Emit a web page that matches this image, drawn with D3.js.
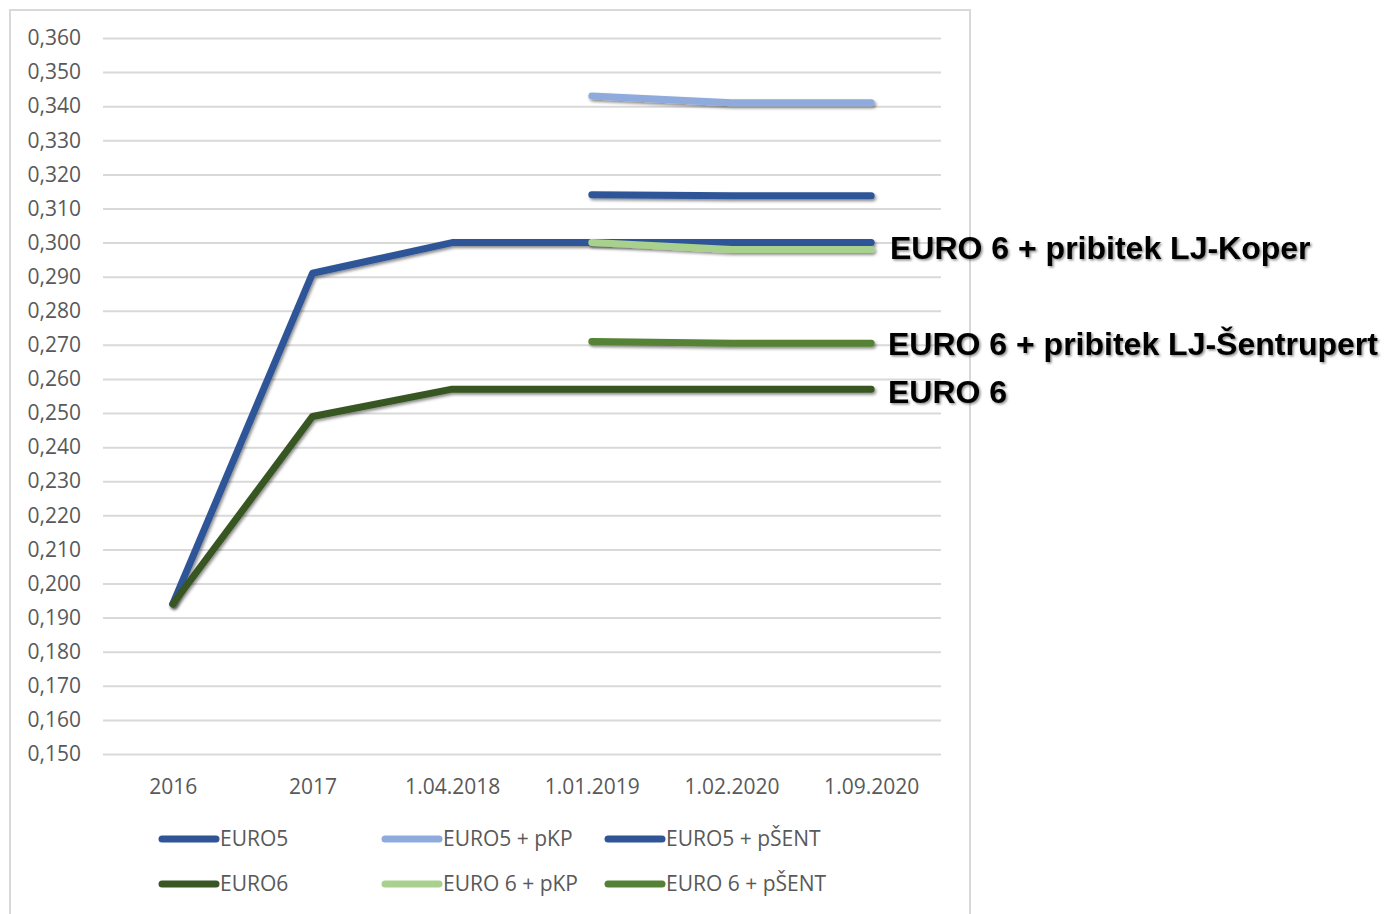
<!DOCTYPE html>
<html>
<head>
<meta charset="utf-8">
<script src="https://cdn.jsdelivr.net/npm/d3@7"></script>
<style>
  body { margin: 0; background: #fff; }
  svg text { font-family: "Open Sans", sans-serif; }
</style>
</head>
<body>
<div id="chart"></div>
<script>
// Categories and y ticks
const categories = ["2016", "2017", "1.04.2018", "1.01.2019", "1.02.2020", "1.09.2020"];
const yTicks = [0.15, 0.16, 0.17, 0.18, 0.19, 0.20, 0.21, 0.22, 0.23, 0.24, 0.25,
                0.26, 0.27, 0.28, 0.29, 0.30, 0.31, 0.32, 0.33, 0.34, 0.35, 0.36];

// Series values (null = no value)
const euro5       = [0.194, 0.291, 0.300, 0.300, 0.300, 0.300];
const euro5pKP    = [null, null, null, 0.343, 0.341, 0.341];
const euro5pSENT  = [null, null, null, 0.314, 0.3137, 0.3137];
const euro6       = [0.194, 0.249, 0.257, 0.257, 0.257, 0.257];
const euro6pKP    = [null, null, null, 0.300, 0.298, 0.298];
const euro6pSENT  = [null, null, null, 0.271, 0.2705, 0.2705];

const seriesNames = ["EURO5", "EURO5 + pKP", "EURO5 + pŠENT", "EURO6", "EURO 6 + pKP", "EURO 6 + pŠENT"];
const seriesValues = [euro5, euro5pKP, euro5pSENT, euro6, euro6pKP, euro6pSENT];
const seriesColors = ["#2f5597", "#8faadc", "#2f5597", "#385723", "#a9d18e", "#548235"];

// Annotation labels on the right
const annotations = [
    {text: "EURO 6 + pribitek LJ-Koper", value: 0.2985},
    {text: "EURO 6 + pribitek LJ-Šentrupert", value: 0.2703},
    {text: "EURO 6", value: 0.2562}
];

const width = 1385, height = 914;
const plot = {left: 103, right: 941, top: 38, bottom: 754};

let svg = d3.select("#chart")
            .append("svg")
            .attr("width", width)
            .attr("height", height);

// drop shadow used by lines and annotation text
let defs = svg.append("defs");
let shadow = defs.append("filter")
                 .attr("id", "shadow")
                 .attr("filterUnits", "userSpaceOnUse")
                 .attr("x", 0).attr("y", 0)
                 .attr("width", width).attr("height", height);
shadow.append("feDropShadow")
      .attr("dx", 1.5).attr("dy", 2)
      .attr("stdDeviation", 1.5)
      .attr("flood-color", "#000")
      .attr("flood-opacity", 0.45);

let textShadow = defs.append("filter")
                     .attr("id", "textShadow")
                     .attr("filterUnits", "userSpaceOnUse")
                     .attr("x", 0).attr("y", 0)
                     .attr("width", width).attr("height", height);
textShadow.append("feDropShadow")
          .attr("dx", 1.5).attr("dy", 1.5)
          .attr("stdDeviation", 1.2)
          .attr("flood-color", "#000")
          .attr("flood-opacity", 0.45);

// chart area border
svg.append("rect")
   .attr("x", 10).attr("y", 10)
   .attr("width", 960).attr("height", 920)
   .attr("fill", "none")
   .attr("stroke", "#d9d9d9")
   .attr("stroke-width", 2);

let xScale = d3.scalePoint()
               .domain(categories)
               .range([plot.left, plot.right])
               .padding(0.5);

let yScale = d3.scaleLinear()
               .domain([0.15, 0.36])
               .range([plot.bottom, plot.top]);

// gridlines + y labels
let yAxis = svg.append("g")
               .attr("transform", `translate(${plot.left},0)`)
               .call(d3.axisLeft(yScale)
                       .tickValues(yTicks)
                       .tickSize(-(plot.right - plot.left))
                       .tickPadding(22)
                       .tickFormat(d => d3.format(".3f")(d).replace(".", ",")));
yAxis.select(".domain").remove();
yAxis.selectAll(".tick line").attr("stroke", "#d9d9d9").attr("stroke-width", 2);
yAxis.selectAll(".tick text")
     .attr("fill", "#595959")
     .style("font-size", "21px");

// x labels
let xAxis = svg.append("g")
               .attr("transform", `translate(0,${plot.bottom})`)
               .call(d3.axisBottom(xScale).tickSize(0).tickPadding(25));
xAxis.select(".domain").remove();
xAxis.selectAll(".tick text")
     .attr("fill", "#595959")
     .style("font-size", "21px");

// lines
let line = d3.line()
             .defined(d => d.value !== null)
             .x(d => xScale(d.cat))
             .y(d => yScale(d.value));

seriesValues.forEach(function(vals, i) {
    let pts = vals.map((v, j) => ({cat: categories[j], value: v}));
    svg.append("path")
       .datum(pts)
       .attr("d", line)
       .attr("fill", "none")
       .attr("stroke", seriesColors[i])
       .attr("stroke-width", 7)
       .attr("stroke-linecap", "round")
       .attr("stroke-linejoin", "round")
       .attr("filter", "url(#shadow)");
});

// legend
const legendCols = [162, 385, 608];
const legendRows = [839, 884];
seriesNames.forEach(function(name, i) {
    let cx = legendCols[i % 3];
    let cy = legendRows[Math.floor(i / 3)];
    svg.append("line")
       .attr("x1", cx).attr("x2", cx + 54)
       .attr("y1", cy).attr("y2", cy)
       .attr("stroke", seriesColors[i])
       .attr("stroke-width", 7)
       .attr("stroke-linecap", "round");
    svg.append("text")
       .attr("x", cx + 58)
       .attr("y", cy)
       .attr("dy", "0.35em")
       .attr("fill", "#595959")
       .style("font-size", "21px")
       .text(name);
});

// annotations
annotations.forEach(function(a, i) {
    svg.append("text")
       .attr("x", i === 0 ? 890 : 888)
       .attr("y", yScale(a.value))
       .attr("dy", "0.36em")
       .attr("fill", "#000")
       .attr("filter", "url(#textShadow)")
       .style("font-family", "'Liberation Sans', Arial, sans-serif")
       .style("font-weight", "bold")
       .style("font-size", "32px")
       .text(a.text);
});
</script>
</body>
</html>
